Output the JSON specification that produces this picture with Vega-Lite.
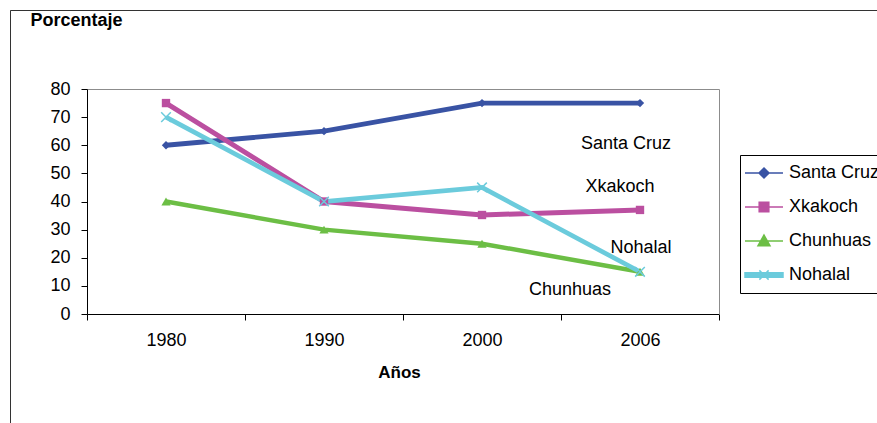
{
  "$schema": "https://vega.github.io/schema/vega-lite/v6.json",
  "width": 867,
  "height": 413,
  "padding": {"left": 10, "top": 10, "right": 0, "bottom": 0},
  "autosize": {"type": "none"},
  "background": "white",
  "config": {
    "font": "Liberation Sans",
    "view": {"stroke": "#333333", "strokeWidth": 1, "strokeDash": [867, 1280, 413]}
  },
  "datasets": {
    "series": [
      {"series": "Santa Cruz", "year": "1980", "value": 60},
      {"series": "Santa Cruz", "year": "1990", "value": 65},
      {"series": "Santa Cruz", "year": "2000", "value": 75},
      {"series": "Santa Cruz", "year": "2006", "value": 75},
      {"series": "Xkakoch", "year": "1980", "value": 75},
      {"series": "Xkakoch", "year": "1990", "value": 40},
      {"series": "Xkakoch", "year": "2000", "value": 35.2},
      {"series": "Xkakoch", "year": "2006", "value": 37},
      {"series": "Chunhuas", "year": "1980", "value": 40},
      {"series": "Chunhuas", "year": "1990", "value": 30},
      {"series": "Chunhuas", "year": "2000", "value": 25},
      {"series": "Chunhuas", "year": "2006", "value": 15},
      {"series": "Nohalal", "year": "1980", "value": 70},
      {"series": "Nohalal", "year": "1990", "value": 40},
      {"series": "Nohalal", "year": "2000", "value": 45},
      {"series": "Nohalal", "year": "2006", "value": 15}
    ],
    "labels": [
      {"label": "Santa Cruz", "year": "2006", "value": 60.3},
      {"label": "Xkakoch", "year": "2006", "value": 45.3},
      {"label": "Nohalal", "year": "2006", "value": 23.3},
      {"label": "Chunhuas", "year": "2006", "value": 8.5}
    ]
  },
  "resolve": {"axis": {"x": "independent", "y": "independent"}},
  "layer": [
    {
      "data": {"name": "series"},
      "mark": {"type": "line"},
      "encoding": {
        "x": {
          "field": "year", "type": "ordinal",
          "scale": {"type": "band", "domain": ["1980", "1990", "2000", "2006"], "range": [77, 709], "paddingInner": 0, "paddingOuter": 0},
          "axis": {
            "orient": "bottom", "offset": -109, "title": "Años",
            "titleFontSize": 17, "titleFontWeight": "bold", "titleColor": "#000",
            "titleX": 389, "titleY": 58, "titleBaseline": "middle",
            "labelAngle": 0, "labelFontSize": 18, "labelColor": "#000", "labelPadding": 11,
            "tickBand": "extent", "tickSize": 6, "tickColor": "#000", "domainColor": "#000",
            "grid": false, "zindex": 0
          }
        },
        "y": {
          "field": "value", "type": "quantitative",
          "scale": {"domain": [0, 80], "range": [304, 79], "nice": false, "zero": true},
          "axis": {
            "orient": "left", "offset": -77, "title": "Porcentaje",
            "titleFontSize": 18, "titleFontWeight": "bold", "titleColor": "#000",
            "titleAngle": 0, "titleAlign": "left", "titleBaseline": "middle", "titleX": -57, "titleY": 10,
            "tickCount": 8, "labelFontSize": 18, "labelColor": "#000", "labelPadding": 11,
            "tickSize": 6, "tickColor": "#000", "domainColor": "#000", "grid": false, "zindex": 0
          }
        },
        "color": {
          "field": "series", "type": "nominal",
          "scale": {"domain": ["Santa Cruz", "Xkakoch", "Chunhuas", "Nohalal"], "range": ["#3953A4", "#BB4FA0", "#6CBE45", "#6BCBDC"]},
          "legend": {
            "title": null, "orient": "none", "legendX": 730, "legendY": 145,
            "padding": 8.5, "rowPadding": 15, "labelOffset": 21.5, "symbolSize": 306.25,
            "strokeColor": "#000", "labelFontSize": 18, "labelColor": "#000", "labelFont": "Liberation Sans",
            "encode": {
              "symbols": {
                "update": {
                  "shape": {"signal": "datum.value === 'Santa Cruz' ? 'M-1.486,0H2.857M0.686,-0.571L1.257,0L0.686,0.571L0.115,0Z' : datum.value === 'Xkakoch' ? 'M-1.486,0H2.857M0.136,-0.55H1.236V0.55H0.136Z' : datum.value === 'Chunhuas' ? 'M-1.486,0H2.857M0.686,-0.686L1.372,0.55H0Z' : 'M-1.486,-0.25H2.857V0.25H-1.486ZM0.156,-0.53L1.216,0.53M0.156,0.53L1.216,-0.53'"},
                  "fill": {"signal": "scale('color', datum.value)"},
                  "stroke": {"signal": "scale('color', datum.value)"},
                  "strokeWidth": {"value": 1.5},
                  "opacity": {"value": 1}
                }
              }
            }
          }
        },
        "strokeWidth": {
          "field": "series", "type": "nominal",
          "scale": {"range": [4.5, 5, 3.5, 4.5]},
          "legend": null
        }
      }
    },
    {
      "data": {"name": "series"},
      "transform": [{"filter": "datum.series === 'Santa Cruz'"}],
      "mark": {"type": "point", "shape": "diamond", "filled": true, "size": 70, "color": "#3953A4", "opacity": 1},
      "encoding": {
        "x": {
          "field": "year", "type": "ordinal",
          "axis": {"orient": "top", "offset": -79, "title": null, "labels": false, "ticks": false, "domainColor": "#8c8c8c", "grid": false}
        },
        "y": {
          "field": "value", "type": "quantitative",
          "axis": {"orient": "right", "offset": -158, "title": null, "labels": false, "ticks": false, "domainColor": "#8c8c8c", "grid": false}
        }
      }
    },
    {
      "data": {"name": "series"},
      "transform": [{"filter": "datum.series === 'Xkakoch'"}],
      "mark": {"type": "point", "shape": "square", "filled": true, "size": 70, "color": "#BB4FA0", "opacity": 1},
      "encoding": {
        "x": {"field": "year", "type": "ordinal", "axis": null},
        "y": {"field": "value", "type": "quantitative", "axis": null}
      }
    },
    {
      "data": {"name": "series"},
      "transform": [{"filter": "datum.series === 'Chunhuas'"}],
      "mark": {"type": "point", "shape": "triangle-up", "filled": true, "size": 85, "color": "#6CBE45", "opacity": 1},
      "encoding": {
        "x": {"field": "year", "type": "ordinal", "axis": null},
        "y": {"field": "value", "type": "quantitative", "axis": null}
      }
    },
    {
      "data": {"name": "series"},
      "transform": [{"filter": "datum.series === 'Nohalal'"}],
      "mark": {"type": "point", "shape": "M-1.15,-1.15L1.15,1.15M-1.15,1.15L1.15,-1.15", "filled": false, "size": 70, "color": "#6BCBDC", "strokeWidth": 1.5, "opacity": 1},
      "encoding": {
        "x": {"field": "year", "type": "ordinal", "axis": null},
        "y": {"field": "value", "type": "quantitative", "axis": null}
      }
    },
    {
      "data": {"name": "labels"},
      "transform": [{"filter": "datum.label === 'Santa Cruz'"}],
      "mark": {"type": "text", "dx": -14, "fontSize": 18, "align": "center", "baseline": "middle", "color": "#000"},
      "encoding": {
        "x": {"field": "year", "type": "ordinal", "axis": null},
        "y": {"field": "value", "type": "quantitative", "axis": null},
        "text": {"field": "label"}
      }
    },
    {
      "data": {"name": "labels"},
      "transform": [{"filter": "datum.label === 'Xkakoch'"}],
      "mark": {"type": "text", "dx": -20, "fontSize": 18, "align": "center", "baseline": "middle", "color": "#000"},
      "encoding": {
        "x": {"field": "year", "type": "ordinal", "axis": null},
        "y": {"field": "value", "type": "quantitative", "axis": null},
        "text": {"field": "label"}
      }
    },
    {
      "data": {"name": "labels"},
      "transform": [{"filter": "datum.label === 'Nohalal'"}],
      "mark": {"type": "text", "dx": 1, "fontSize": 18, "align": "center", "baseline": "middle", "color": "#000"},
      "encoding": {
        "x": {"field": "year", "type": "ordinal", "axis": null},
        "y": {"field": "value", "type": "quantitative", "axis": null},
        "text": {"field": "label"}
      }
    },
    {
      "data": {"name": "labels"},
      "transform": [{"filter": "datum.label === 'Chunhuas'"}],
      "mark": {"type": "text", "dx": -70, "fontSize": 18, "align": "center", "baseline": "middle", "color": "#000"},
      "encoding": {
        "x": {"field": "year", "type": "ordinal", "axis": null},
        "y": {"field": "value", "type": "quantitative", "axis": null},
        "text": {"field": "label"}
      }
    }
  ]
}
